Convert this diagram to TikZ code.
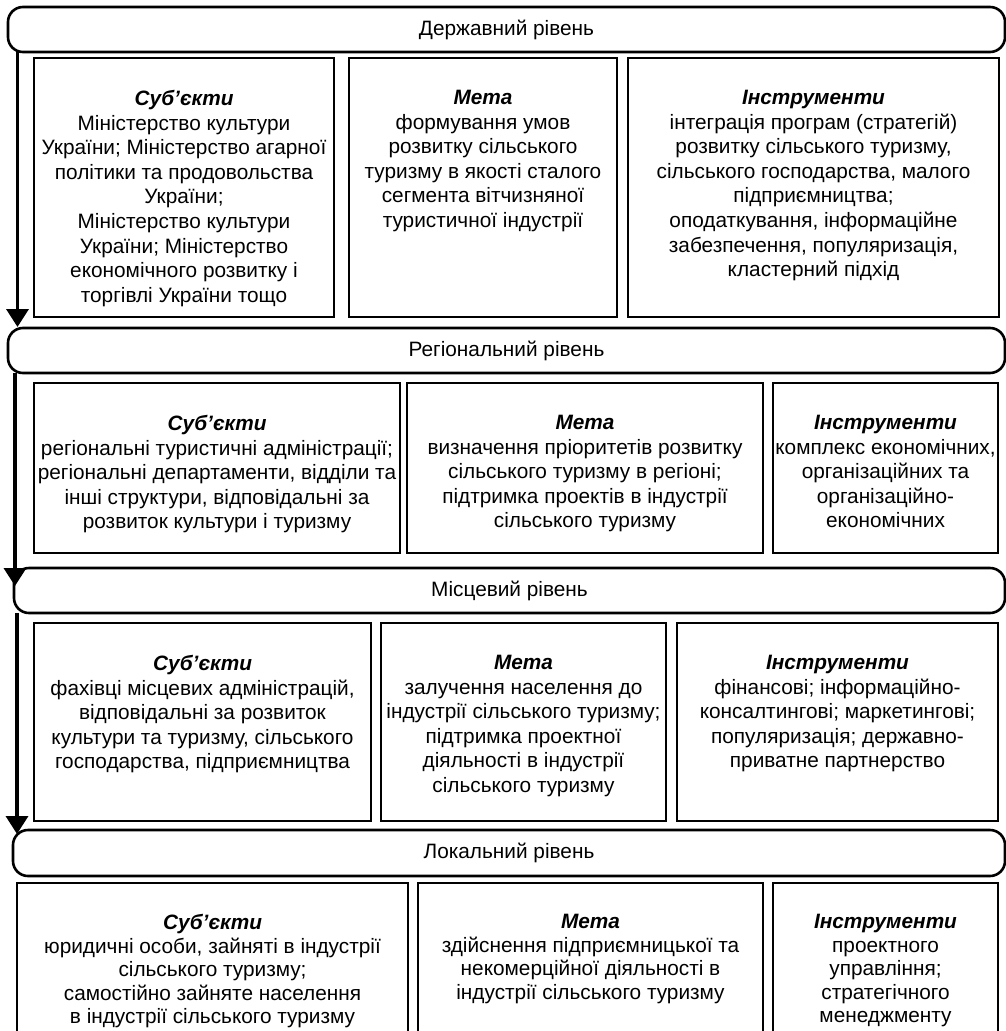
\documentclass[tikz,border=0pt]{standalone}
\usepackage{fontspec}
\setmainfont{Liberation Sans}
\usetikzlibrary{arrows.meta}
\tikzset{
  banner/.style={draw, line width=2.6pt, rounded corners=15pt, inner sep=0pt},
  boxr/.style={draw, line width=2.2pt, inner sep=0pt},
  txt/.style={align=center, inner sep=0pt, font=\fontsize{20.8}{24.6}\selectfont, anchor=north},
  txtl/.style={txt, font=\fontsize{20.8}{23.6}\selectfont},
  bantxt/.style={inner sep=0pt, font=\fontsize{20.8}{24.6}\selectfont},
  flow/.style={line width=3.5pt, -{Triangle[length=18pt,width=22pt]}}
}
\newcommand{\ttl}[1]{\textbf{\textit{#1}}}
\begin{document}
\begin{tikzpicture}[x=1pt,y=-1pt]
\clip (0,0) rectangle (1006,1031);
\fill[white] (0,0) rectangle (1006,1031);
% banners
\draw[banner] (8,7) rectangle (1005,52);
\node[bantxt] (b1) at (506.5,29.5) {Державний рівень};
\draw[banner] (8,328) rectangle (1005,373);
\node[bantxt] (b2) at (506.5,350.5) {Регіональний рівень};
\draw[banner] (14,568) rectangle (1005,613);
\node[bantxt] (b3) at (509.5,590.5) {Місцевий рівень};
\draw[banner] (13,830) rectangle (1005,876);
\node[bantxt] (b4) at (509,853) {Локальний рівень};
% arrows
\coordinate (a1s) at (17.5,52);
\coordinate (a1e) at (17.5,327);
\coordinate (a2s) at (15,373);
\coordinate (a2e) at (15,586);
\coordinate (a3s) at (17,613);
\coordinate (a3e) at (17,834);
\draw[flow] (a1s) -- (a1e);
\draw[flow] (a2s) -- (a2e);
\draw[flow] (a3s) -- (a3e);
% state level boxes
\draw[boxr] (34,58) rectangle (334,317);
\draw[boxr] (349,58) rectangle (617,317);
\draw[boxr] (628,58) rectangle (999,317);
\node[txt] (s1) at (184,90) {\ttl{Суб’єкти}\\Міністерство культури\\України; Міністерство агарної\\політики та продовольства\\України;\\Міністерство культури\\України; Міністерство\\економічного розвитку і\\торгівлі України тощо};
\node[txt] (s2) at (483,90) {\ttl{Мета}\\формування умов\\розвитку сільського\\туризму в якості сталого\\сегмента вітчизняної\\туристичної індустрії};
\node[txt] (s3) at (813.5,90) {\ttl{Інструменти}\\інтеграція програм (стратегій)\\розвитку сільського туризму,\\сільського господарства, малого\\підприємництва;\\оподаткування, інформаційне\\забезпечення, популяризація,\\кластерний підхід};
% regional level boxes
\draw[boxr] (34,383) rectangle (400,553);
\draw[boxr] (407,383) rectangle (763,553);
\draw[boxr] (773,383) rectangle (998,553);
\node[txt] (r1) at (217,415) {\ttl{Суб’єкти}\\регіональні туристичні адміністрації;\\регіональні департаменти, відділи та\\інші структури, відповідальні за\\розвиток культури і туризму};
\node[txt] (r2) at (585,415) {\ttl{Мета}\\визначення пріоритетів розвитку\\сільського туризму в регіоні;\\підтримка проектів в індустрії\\сільського туризму};
\node[txt] (r3) at (885.5,415) {\ttl{Інструменти}\\комплекс економічних,\\організаційних та\\організаційно-\\економічних};
% local (mistsevyi) level boxes
\draw[boxr] (34,623) rectangle (371,821);
\draw[boxr] (381,623) rectangle (666,821);
\draw[boxr] (677,623) rectangle (998,821);
\node[txt] (m1) at (202.5,655) {\ttl{Суб’єкти}\\фахівці місцевих адміністрацій,\\відповідальні за розвиток\\культури та туризму, сільського\\господарства, підприємництва};
\node[txt] (m2) at (523.5,655) {\ttl{Мета}\\залучення населення до\\індустрії сільського туризму;\\підтримка проектної\\діяльності в індустрії\\сільського туризму};
\node[txt] (m3) at (837.5,655) {\ttl{Інструменти}\\фінансові; інформаційно-\\консалтингові; маркетингові;\\популяризація; державно-\\приватне партнерство};
% local (lokalnyi) level boxes
\draw[boxr] (17,883) rectangle (408,1050);
\draw[boxr] (418,883) rectangle (763,1050);
\draw[boxr] (773,883) rectangle (998,1050);
\node[txtl] (l1) at (212.5,914) {\ttl{Суб’єкти}\\юридичні особи, зайняті в індустрії\\сільського туризму;\\самостійно зайняте населення\\в індустрії сільського туризму};
\node[txtl] (l2) at (590.5,914) {\ttl{Мета}\\здійснення підприємницької та\\некомерційної діяльності в\\індустрії сільського туризму};
\node[txtl] (l3) at (885.5,914) {\ttl{Інструменти}\\проектного\\управління;\\стратегічного\\менеджменту};
\end{tikzpicture}
\end{document}
